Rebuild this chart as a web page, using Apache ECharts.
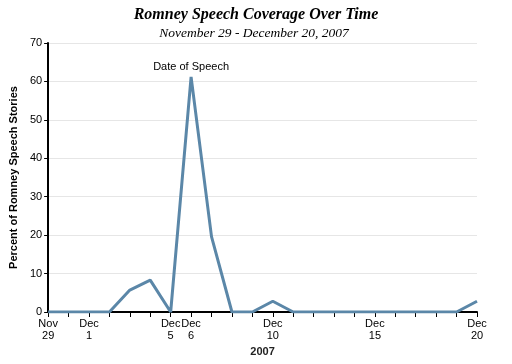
<!DOCTYPE html>
<html><head><meta charset="utf-8">
<script src="https://cdn.jsdelivr.net/npm/echarts@6/dist/echarts.min.js"></script>
<style>html,body{margin:0;padding:0;background:#fff}#c{width:512px;height:364px}</style>
</head><body><div id="c"></div>
<script>
const categories = ['Nov 29','Nov 30','Dec 1','Dec 2','Dec 3','Dec 4','Dec 5','Dec 6','Dec 7','Dec 8','Dec 9','Dec 10','Dec 11','Dec 12','Dec 13','Dec 14','Dec 15','Dec 16','Dec 17','Dec 18','Dec 19','Dec 20'];
const values = [0,0,0,0,5.7,8.3,0,61.2,19.6,0,0,2.8,0,0,0,0,0,0,0,0,0,2.8];
const labeledDays = ['Nov 29','Dec 1','Dec 5','Dec 6','Dec 10','Dec 15','Dec 20'];
const speechDay = 'Dec 6';
const speechNote = 'Date of Speech';
const yTicks = [0,10,20,30,40,50,60,70];

const chart = echarts.init(document.getElementById('c'));
chart.setOption({
  animation:false,
  title:[
    {text:'Romney Speech Coverage Over Time', left:251, top:2, textAlign:'center',
     textStyle:{fontFamily:'Liberation Serif',fontStyle:'italic',fontWeight:'bold',fontSize:16,color:'#000'}},
    {text:'November 29 - December 20, 2007', left:249, top:21, textAlign:'center',
     textStyle:{fontFamily:'Liberation Serif',fontStyle:'italic',fontWeight:'normal',fontSize:13.5,color:'#000'}}
  ],
  grid:{left:47,right:35,top:43,bottom:52,containLabel:false},
  xAxis:{
    type:'category', data:categories, boundaryGap:false,
    name:'2007', nameLocation:'middle', nameGap:34,
    nameTextStyle:{fontFamily:'Liberation Sans',fontWeight:'bold',fontSize:11,color:'#222'},
    axisLine:{lineStyle:{color:'#000',width:2}},
    axisTick:{show:true,interval:0,length:5,lineStyle:{color:'#000',width:1}},
    axisLabel:{
      interval:function(i,v){return labeledDays.indexOf(v)>=0;},
      formatter:function(v){return v.replace(' ','\n');},
      fontFamily:'Liberation Sans',fontSize:11,color:'#000',lineHeight:12,margin:6
    },
    splitLine:{show:false}
  },
  yAxis:{
    type:'value', min:0, max:70, interval:10,
    name:'Percent of Romney Speech Stories', nameLocation:'middle', nameGap:27,
    nameTextStyle:{fontFamily:'Liberation Sans',fontWeight:'bold',fontSize:11,color:'#000'},
    axisLine:{show:true,lineStyle:{color:'#000',width:2}},
    axisTick:{show:true,length:4,lineStyle:{color:'#000'}},
    axisLabel:{fontFamily:'Liberation Sans',fontSize:11,color:'#000',margin:6,
      formatter:function(v){return yTicks.indexOf(v)>=0?String(v):'';}},
    splitLine:{show:true,lineStyle:{color:'#e6e6e6',width:1}}
  },
  series:[{
    type:'line', data:values,
    symbol:'none', lineStyle:{color:'#5b87a8',width:3}, z:1,
    markPoint:{
      symbol:'rect', symbolSize:0, silent:true,
      data:[{coord:[speechDay, values[categories.indexOf(speechDay)]], value:0}],
      label:{show:true, position:'top', distance:4, formatter:speechNote,
        fontFamily:'Liberation Sans',fontSize:11,color:'#000'}
    }
  }]
});
</script></body></html>
